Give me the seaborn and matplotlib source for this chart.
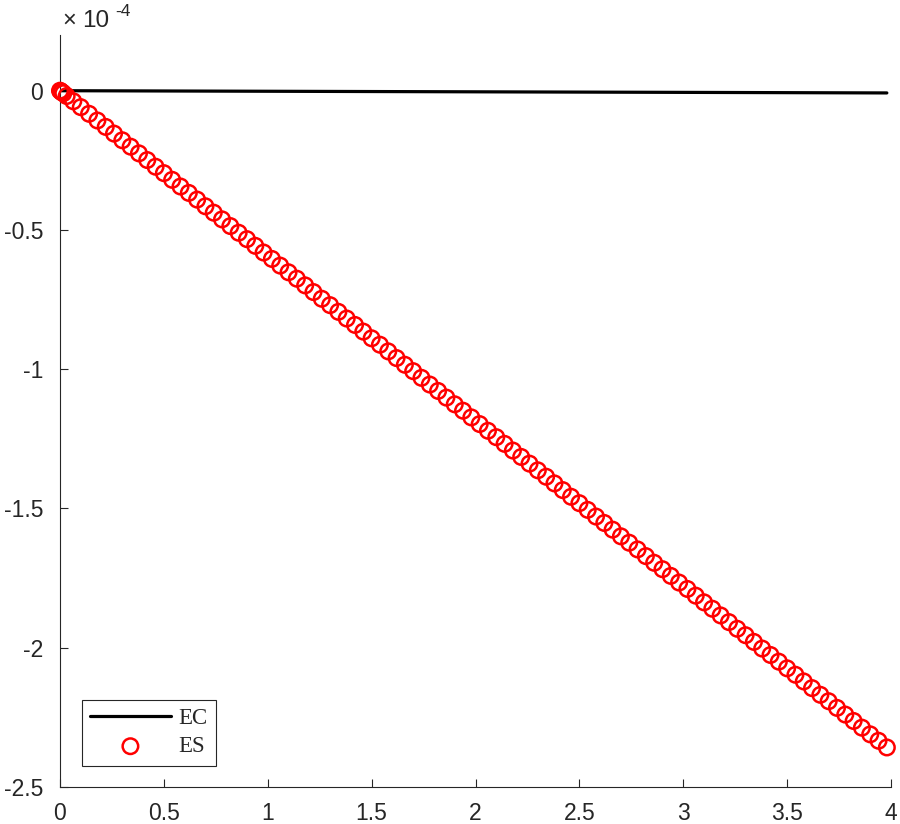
import matplotlib
matplotlib.use("Agg")
import matplotlib.pyplot as plt
import seaborn as sns
import pandas as pd

# ---- data (y values in units of 1e-4) ----
es_t = [0, 0.004, 0.008, 0.016, 0.032, 0.064,
        0.10, 0.14, 0.18, 0.22, 0.26, 0.30, 0.34, 0.38, 0.42, 0.46,
        0.50, 0.54, 0.58, 0.62, 0.66, 0.70, 0.74, 0.78, 0.82, 0.86,
        0.90, 0.94, 0.98, 1.02, 1.06, 1.10, 1.14, 1.18, 1.22, 1.26,
        1.30, 1.34, 1.38, 1.42, 1.46, 1.50, 1.54, 1.58, 1.62, 1.66,
        1.70, 1.74, 1.78, 1.82, 1.86, 1.90, 1.94, 1.98, 2.02, 2.06,
        2.10, 2.14, 2.18, 2.22, 2.26, 2.30, 2.34, 2.38, 2.42, 2.46,
        2.50, 2.54, 2.58, 2.62, 2.66, 2.70, 2.74, 2.78, 2.82, 2.86,
        2.90, 2.94, 2.98, 3.02, 3.06, 3.10, 3.14, 3.18, 3.22, 3.26,
        3.30, 3.34, 3.38, 3.42, 3.46, 3.50, 3.54, 3.58, 3.62, 3.66,
        3.70, 3.74, 3.78, 3.82, 3.86, 3.90, 3.94, 3.98]
es_vals = [0, -0.002, -0.005, -0.009, -0.019, -0.038,
           -0.059, -0.083, -0.107, -0.130, -0.154, -0.178, -0.201, -0.225, -0.249, -0.273,
           -0.296, -0.320, -0.344, -0.367, -0.391, -0.415, -0.438, -0.462, -0.486, -0.510,
           -0.533, -0.557, -0.581, -0.604, -0.628, -0.652, -0.675, -0.699, -0.723, -0.747,
           -0.770, -0.794, -0.818, -0.841, -0.865, -0.889, -0.912, -0.936, -0.960, -0.984,
           -1.007, -1.031, -1.055, -1.078, -1.102, -1.126, -1.149, -1.173, -1.197, -1.221,
           -1.244, -1.268, -1.292, -1.315, -1.339, -1.363, -1.386, -1.410, -1.434, -1.458,
           -1.481, -1.505, -1.529, -1.552, -1.576, -1.600, -1.623, -1.647, -1.671, -1.695,
           -1.718, -1.742, -1.766, -1.789, -1.813, -1.837, -1.860, -1.884, -1.908, -1.932,
           -1.955, -1.979, -2.003, -2.026, -2.050, -2.074, -2.097, -2.121, -2.145, -2.169,
           -2.192, -2.216, -2.240, -2.263, -2.287, -2.311, -2.334, -2.358]
ec_t = [0, 1.0, 2.0, 3.0, 3.98]
ec_vals = [0, -0.002, -0.004, -0.006, -0.008]

x_ticks = [0, 0.5, 1, 1.5, 2, 2.5, 3, 3.5, 4]
x_ticklabels = ["0", "0.5", "1", "1.5", "2", "2.5", "3", "3.5", "4"]
y_ticks = [-2.5, -2, -1.5, -1, -0.5, 0]
y_ticklabels = ["-2.5", "-2", "-1.5", "-1", "-0.5", "0"]

sns.set_style("ticks")
plt.rcParams['font.family'] = ['Liberation Sans', 'DejaVu Sans']

fig = plt.figure(figsize=(9.0, 8.24), dpi=100)
ax = fig.add_axes([60/900, 1-787/824, (891-60)/900, (787-35)/824])

ec_df = pd.DataFrame({"t": ec_t, "v": ec_vals})
es_df = pd.DataFrame({"t": es_t, "v": es_vals})

sns.lineplot(data=ec_df, x="t", y="v", ax=ax, color="black", linewidth=2.3,
             label="EC", zorder=2)
sns.scatterplot(data=es_df, x="t", y="v", ax=ax, marker="o", s=125,
                facecolors="none", edgecolor="#ff0000", linewidth=1.8,
                label="ES", zorder=3, clip_on=False)

ax.set_xlim(0, 4)
ax.set_ylim(-2.5, 0.2)
ax.set_xticks(x_ticks)
ax.set_xticklabels(x_ticklabels)
ax.set_yticks(y_ticks)
ax.set_yticklabels(y_ticklabels)
ax.set_xlabel("")
ax.set_ylabel("")
for s in ["top", "right"]:
    ax.spines[s].set_visible(False)
for s in ["left", "bottom"]:
    ax.spines[s].set_color("#262626")
    ax.spines[s].set_linewidth(0.8)
ax.tick_params(direction="in", length=6, width=0.8, color="#262626",
               labelsize=16.5, labelcolor="#262626")
ax.tick_params(axis="x", pad=11)
ax.tick_params(axis="y", pad=12)

leg = ax.legend(loc="lower left", bbox_to_anchor=(0.026, 0.028),
                frameon=True, fancybox=False, framealpha=1,
                edgecolor="#262626", prop={"family": "Liberation Serif", "size": 16.5},
                handlelength=3.5, borderpad=0.38, labelspacing=0.3,
                handletextpad=0.35, borderaxespad=0, markerscale=1.0)
leg.get_frame().set_linewidth(0.8)

fig.text(62/900, 1-27/824, "\u00d7", fontsize=17, color="#262626",
         ha="left", va="baseline")
fig.text(82/900, 1-27/824, "10", fontsize=17.5, color="#262626",
         ha="left", va="baseline")
fig.text(115/900, 1-16/824, "-4", fontsize=12.5, color="#262626",
         ha="left", va="baseline")

fig.savefig("out.png", dpi=100)
